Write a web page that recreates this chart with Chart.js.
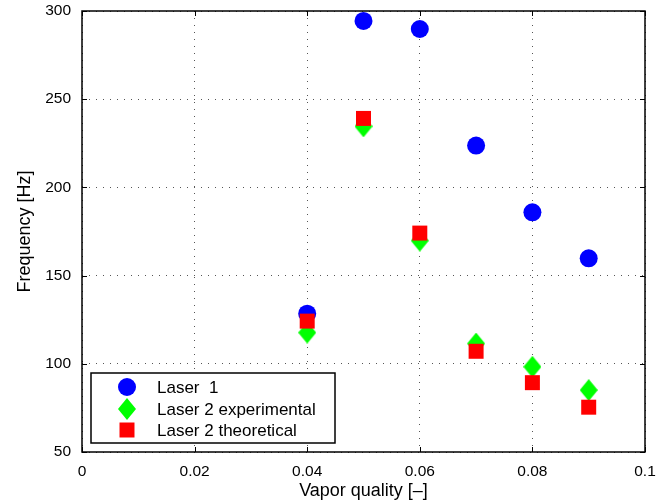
<!DOCTYPE html>
<html>
<head>
<meta charset="utf-8">
<script src="https://cdn.jsdelivr.net/npm/chart.js@4/dist/chart.umd.min.js"></script>
<style>
  html, body { margin: 0; padding: 0; background: #fff; }
  #wrap { width: 672px; height: 502px; }
</style>
</head>
<body>
<div id="wrap"><canvas id="freqChart" width="672" height="502"></canvas></div>
<script>
// vapor quality values and measured / predicted frequencies
const quality = [0.04, 0.05, 0.06, 0.07, 0.08, 0.09];
const laser1 = [128.4, 294.4, 289.8, 223.7, 185.9, 159.8];
const laser2Exp = [117.7, 234.6, 169.8, 111.5, 98.3, 85.1];
const laser2Theo = [124.2, 239.1, 174.1, 107.1, 89.3, 75.4];
const seriesLabels = ["Laser  1", "Laser 2 experimental", "Laser 2 theoretical"];
const xTickLabels = ["0", "0.02", "0.04", "0.06", "0.08", "0.1"];
const yTickLabels = ["50", "100", "150", "200", "250", "300"];

const FONT = "'Liberation Sans', Arial, Helvetica, sans-serif";

// tall diamond marker, a bit narrower than it is high
function makeDiamond(w, h, color) {
    const c = document.createElement("canvas");
    c.width = w; c.height = h;
    const g = c.getContext("2d");
    g.fillStyle = color;
    g.beginPath();
    g.moveTo(w / 2, 0);
    g.lineTo(w, h / 2);
    g.lineTo(w / 2, h);
    g.lineTo(0, h / 2);
    g.closePath();
    g.fill();
    return c;
}
const diamond = makeDiamond(18, 22, "#00ff00");

function toPoints(ys) {
    return quality.map((x, i) => ({ x: x, y: ys[i] }));
}

// box around the axes, inward ticks and the legend
const framePlugin = {
    id: "frame",
    afterDatasetsDraw(chart) {
        const ctx = chart.ctx;
        const a = chart.chartArea;
        const xs = chart.scales.x, ys = chart.scales.y;
        ctx.save();
        ctx.strokeStyle = "#000";
        ctx.lineWidth = 1;
        ctx.beginPath();
        xs.ticks.forEach(t => {
            const px = Math.round(xs.getPixelForValue(t.value)) + 0.5;
            ctx.moveTo(px, a.bottom); ctx.lineTo(px, a.bottom - 5);
            ctx.moveTo(px, a.top); ctx.lineTo(px, a.top + 5);
        });
        ys.ticks.forEach(t => {
            const py = Math.round(ys.getPixelForValue(t.value)) + 0.5;
            ctx.moveTo(a.left, py); ctx.lineTo(a.left + 5, py);
            ctx.moveTo(a.right, py); ctx.lineTo(a.right - 5, py);
        });
        ctx.stroke();
        ctx.lineWidth = 1.5;
        ctx.strokeRect(a.left, a.top, a.right - a.left, a.bottom - a.top);

        // legend
        const lx = 91, ly = 373, lw = 244, lh = 70;
        ctx.fillStyle = "#fff";
        ctx.fillRect(lx, ly, lw, lh);
        ctx.strokeRect(lx, ly, lw, lh);
        const rows = [387, 409, 430];
        chart.data.datasets.forEach((ds, i) => {
            ctx.fillStyle = ds.backgroundColor;
            Chart.helpers.drawPoint(ctx, {
                pointStyle: ds.pointStyle,
                radius: ds.pointRadius,
                rotation: 0,
                borderWidth: 0
            }, 127, rows[i]);
            ctx.fillStyle = "#000";
            ctx.font = "17px " + FONT;
            ctx.textBaseline = "middle";
            ctx.textAlign = "left";
            ctx.fillText(ds.label, 157, rows[i] + 1);
        });
        ctx.restore();
    }
};

new Chart(document.getElementById("freqChart"), {
    type: "scatter",
    data: {
        datasets: [
            {
                label: seriesLabels[0],
                data: toPoints(laser1),
                backgroundColor: "#0000ff",
                pointStyle: "circle",
                pointRadius: 9,
                pointBorderWidth: 0,
                order: 3
            },
            {
                label: seriesLabels[1],
                data: toPoints(laser2Exp),
                backgroundColor: "#00ff00",
                pointStyle: diamond,
                pointRadius: 11,
                pointBorderWidth: 0,
                order: 2
            },
            {
                label: seriesLabels[2],
                data: toPoints(laser2Theo),
                backgroundColor: "#ff0000",
                pointStyle: "rect",
                pointRadius: 10.6,
                pointBorderWidth: 0,
                order: 1
            }
        ]
    },
    options: {
        responsive: false,
        animation: false,
        layout: { padding: { top: 9, right: 27, left: 0, bottom: 0 } },
        plugins: { legend: { display: false }, tooltip: { enabled: false } },
        scales: {
            x: {
                type: "linear",
                min: 0, max: 0.1,
                afterFit(scale) {
                    scale.height = 50;
                    scale.paddingLeft = 0;
                    scale.paddingRight = 0;
                },
                afterBuildTicks(scale) {
                    scale.ticks = xTickLabels.map(v => ({ value: parseFloat(v) }));
                },
                ticks: {
                    callback: (v, i) => xTickLabels[i],
                    color: "#000",
                    font: { family: FONT, size: 15.5 },
                    padding: 10,
                    maxRotation: 0
                },
                grid: { color: "#555", lineWidth: 1, drawTicks: false },
                border: { display: false, dash: [1, 6] },
                title: {
                    display: true,
                    text: "Vapor quality [\u2013]",
                    color: "#000",
                    font: { family: FONT, size: 18 },
                    padding: { top: 0, bottom: 0 }
                }
            },
            y: {
                type: "linear",
                min: 50, max: 300,
                afterFit(scale) {
                    scale.width = 82;
                    scale.paddingTop = 0;
                    scale.paddingBottom = 0;
                },
                afterBuildTicks(scale) {
                    scale.ticks = yTickLabels.map(v => ({ value: parseFloat(v) }));
                },
                ticks: {
                    callback: (v, i) => yTickLabels[i],
                    color: "#000",
                    font: { family: FONT, size: 15.5 },
                    padding: 11
                },
                grid: { color: "#555", lineWidth: 1, drawTicks: false },
                border: { display: false, dash: [1, 6] },
                title: {
                    display: true,
                    text: "Frequency [Hz]",
                    color: "#000",
                    font: { family: FONT, size: 18 },
                    padding: { top: 14, bottom: 0 }
                }
            }
        }
    },
    plugins: [framePlugin]
});
</script>
</body>
</html>
